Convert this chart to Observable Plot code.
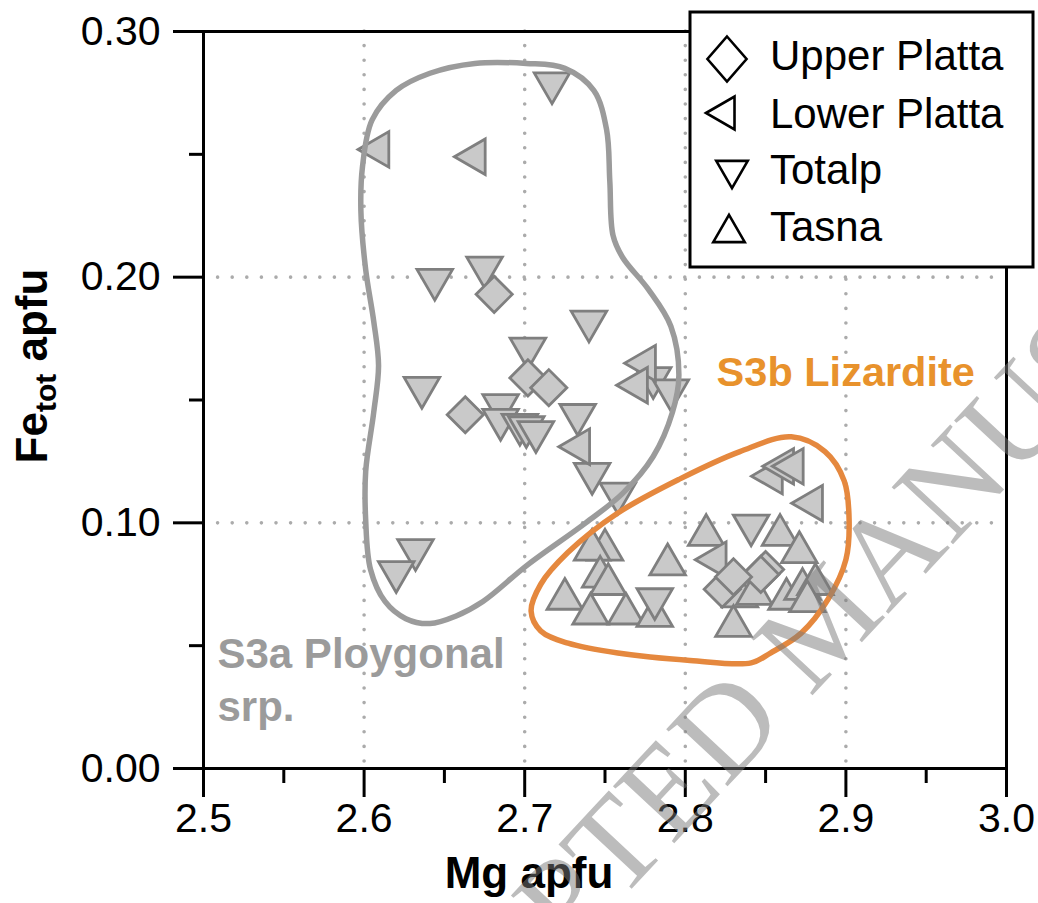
<!DOCTYPE html>
<html>
<head>
<meta charset="utf-8">
<script src="https://cdn.jsdelivr.net/npm/d3@7"></script>
<script src="https://cdn.jsdelivr.net/npm/@observablehq/plot@0.6"></script>
<style>
  html, body { margin: 0; padding: 0; background: #fff; }
  svg { display: block; }
</style>
</head>
<body>
<div id="chart"></div>
<script>
// ---- data (Mg apfu, Fe_tot apfu) ----
const upperPlattaMg = [2.681, 2.702, 2.715, 2.663, 2.850, 2.847, 2.823, 2.830];
const upperPlattaFe = [0.193, 0.159, 0.155, 0.144, 0.081, 0.079, 0.073, 0.078];

const lowerPlattaMg = [2.609, 2.669, 2.734, 2.775, 2.770, 2.854, 2.861, 2.867, 2.879, 2.819];
const lowerPlattaFe = [0.252, 0.249, 0.131, 0.165, 0.156, 0.119, 0.123, 0.123, 0.108, 0.085];

const totalpMg = [2.717, 2.644, 2.675, 2.740, 2.702, 2.636, 2.685, 2.685, 2.697, 2.701, 2.707, 2.733, 2.742, 2.758, 2.780, 2.791, 2.841, 2.781, 2.632, 2.620];
const totalpFe = [0.279, 0.199, 0.204, 0.182, 0.171, 0.155, 0.148, 0.142, 0.140, 0.139, 0.137, 0.144, 0.120, 0.112, 0.159, 0.154, 0.099, 0.069, 0.089, 0.080];

const tasnaMg = [2.813, 2.859, 2.871, 2.834, 2.843, 2.863, 2.873, 2.881, 2.876, 2.830, 2.789, 2.750, 2.742, 2.747, 2.752, 2.725, 2.741, 2.763, 2.781];
const tasnaFe = [0.095, 0.095, 0.088, 0.070, 0.071, 0.069, 0.073, 0.075, 0.068, 0.058, 0.083, 0.089, 0.089, 0.078, 0.075, 0.069, 0.063, 0.063, 0.062];

// field outlines (closed curves)
const s3aMg = [2.598, 2.599, 2.605, 2.620, 2.641, 2.669, 2.701, 2.725, 2.743, 2.751, 2.753, 2.755, 2.761, 2.777, 2.791, 2.796, 2.792, 2.780, 2.761, 2.738, 2.702, 2.674, 2.657, 2.641, 2.626, 2.613, 2.604, 2.601, 2.601, 2.606, 2.609, 2.606, 2.601];
const s3aFe = [0.227, 0.245, 0.264, 0.276, 0.283, 0.287, 0.287, 0.285, 0.276, 0.260, 0.239, 0.217, 0.208, 0.195, 0.180, 0.160, 0.145, 0.127, 0.112, 0.100, 0.083, 0.068, 0.062, 0.059, 0.061, 0.068, 0.081, 0.101, 0.121, 0.145, 0.164, 0.182, 0.203];

const s3bMg = [2.866, 2.887, 2.899, 2.902, 2.900, 2.889, 2.872, 2.853, 2.841, 2.803, 2.758, 2.727, 2.710, 2.704, 2.710, 2.727, 2.758, 2.797, 2.834];
const s3bFe = [0.135, 0.129, 0.117, 0.101, 0.085, 0.069, 0.055, 0.047, 0.043, 0.044, 0.047, 0.051, 0.056, 0.064, 0.075, 0.088, 0.104, 0.118, 0.129];

// ticks
const xMajorTicks = [2.5, 2.6, 2.7, 2.8, 2.9, 3.0];
const xMinorTicks = [2.55, 2.65, 2.75, 2.85, 2.95];
const yMajorTicks = [0, 0.1, 0.2, 0.3];
const yMinorTicks = [0.05, 0.15, 0.25];
const xGrid = [2.6, 2.7, 2.8, 2.9];
const yGrid = [0.1, 0.2];

// legend entries & field labels
const seriesNames = ["Upper Platta", "Lower Platta", "Totalp", "Tasna"];
const fieldLabels = [
  {mg: 2.8195, fe: 0.1555, text: "S3b Lizardite"},
  {mg: 2.5087, fe: 0.0192, text: "S3a Ploygonal\nsrp."}
];
const watermark = "ACCEPTED MANUSCRIPT";

// ---- build ----
const toPts = (mg, fe) => mg.map((m, i) => ({mg: m, fe: fe[i]}));
const upper = toPts(upperPlattaMg, upperPlattaFe);
const lower = toPts(lowerPlattaMg, lowerPlattaFe);
const totalp = toPts(totalpMg, totalpFe);
const tasna = toPts(tasnaMg, tasnaFe);
const s3a = toPts(s3aMg, s3aFe);
const s3b = toPts(s3bMg, s3bFe);

const dotStyle = {x: "mg", y: "fe", fill: "#c9c9c9", stroke: "#7f7f7f", strokeWidth: 2.8};
const gridStyle = {stroke: "#ababab", strokeWidth: 3.6, strokeDasharray: "0,14.6", strokeLinecap: "round"};

const svg = Plot.plot({
  width: 1038,
  height: 903,
  marginLeft: 203,
  marginRight: 32,
  marginTop: 31,
  marginBottom: 135,
  style: {fontFamily: "'Liberation Sans', Arial, Helvetica, sans-serif", background: "#fff", overflow: "hidden", color: "#000"},
  x: {domain: [2.5, 3.0], label: null, axis: null},
  y: {domain: [0, 0.3], label: null, axis: null},
  marks: [
    Plot.ruleX(xGrid, gridStyle),
    Plot.ruleY(yGrid, gridStyle),
    Plot.text(fieldLabels.slice(1), {x: "mg", y: "fe", text: "text", textAnchor: "start", lineAnchor: "bottom", lineHeight: 1.27, fontSize: 42, fontWeight: "bold", fill: "#9b9b9b"}),
    Plot.text(fieldLabels.slice(0, 1), {x: "mg", y: "fe", text: "text", textAnchor: "start", lineAnchor: "bottom", fontSize: 41.5, fontWeight: "bold", fill: "#e8922c"}),
    Plot.dot(tasna, {...dotStyle, symbol: "triangle", r: 13.2}),
    Plot.dot(totalp, {...dotStyle, symbol: "triangle", rotate: 180, r: 13.2}),
    Plot.dot(lower, {...dotStyle, symbol: "triangle", rotate: -90, r: 13.2}),
    Plot.dot(upper, {...dotStyle, symbol: "diamond2", r: 16.3}),
    Plot.line(s3a, {x: "mg", y: "fe", curve: "catmull-rom-closed", stroke: "#9b9b9b", strokeWidth: 5.5}),
    Plot.line(s3b, {x: "mg", y: "fe", curve: "catmull-rom-closed", stroke: "#e5883e", strokeWidth: 5.5}),
    Plot.frame({stroke: "#000", strokeWidth: 3}),
    Plot.axisX(xMajorTicks, {anchor: "bottom", tickSize: 29, tickPadding: 5, tickFormat: d3.format(".1f"), fontSize: 41, strokeWidth: 3, label: null}),
    Plot.axisX(xMinorTicks, {anchor: "bottom", tickSize: 15, tickFormat: () => "", strokeWidth: 3, label: null}),
    Plot.axisY(yMajorTicks, {anchor: "left", tickSize: 30, tickPadding: 13, tickFormat: d3.format(".2f"), fontSize: 41, strokeWidth: 3, label: null}),
    Plot.axisY(yMinorTicks, {anchor: "left", tickSize: 14, tickFormat: () => "", strokeWidth: 3, label: null})
  ]
});

const root = d3.select(svg);

// axis titles
root.append("text")
  .attr("x", 529).attr("y", 888)
  .attr("text-anchor", "middle")
  .attr("font-size", 44).attr("font-weight", "bold").attr("fill", "#000")
  .text("Mg apfu");

const yTitle = root.append("text")
  .attr("transform", "translate(47,366) rotate(-90)")
  .attr("text-anchor", "middle")
  .attr("font-size", 44).attr("font-weight", "bold").attr("fill", "#000");
yTitle.append("tspan").text("Fe");
yTitle.append("tspan").attr("font-size", 30).attr("dy", 9).text("tot");
yTitle.append("tspan").attr("font-size", 44).attr("dy", -9).text(" apfu");

// legend
const lg = root.append("g");
lg.append("rect").attr("x", 690).attr("y", 12).attr("width", 343).attr("height", 255)
  .attr("fill", "#fff").attr("stroke", "#000").attr("stroke-width", 3);
const legendSym = [
  {type: d3.symbolDiamond2, size: 1290, rot: 0, sx: 0.87, cx: 727, cy: 59},
  {type: d3.symbolTriangle, size: 470, rot: -90, sx: 1, cx: 725, cy: 113},
  {type: d3.symbolTriangle, size: 430, rot: 180, sx: 1, cx: 732, cy: 170},
  {type: d3.symbolTriangle, size: 430, rot: 0, sx: 1, cx: 729, cy: 233}
];
const legendBaselines = [70, 128, 184, 241];
seriesNames.forEach((name, i) => {
  const s = legendSym[i];
  lg.append("path")
    .attr("d", d3.symbol(s.type, s.size)())
    .attr("transform", `translate(${s.cx},${s.cy}) rotate(${s.rot}) scale(${s.sx},1)`)
    .attr("fill", "none").attr("stroke", "#000").attr("stroke-width", 2.6)
    .attr("vector-effect", "non-scaling-stroke");
  lg.append("text")
    .attr("x", 770).attr("y", legendBaselines[i])
    .attr("text-anchor", "start")
    .attr("font-size", 42).attr("fill", "#000")
    .text(name);
});

// publisher watermark (diagonal, semi-transparent)
root.append("text")
  .attr("transform", "translate(337,1205) rotate(-47)")
  .attr("text-anchor", "start")
  .attr("font-family", "'Liberation Serif', 'DejaVu Serif', serif")
  .attr("font-size", 128)
  .attr("fill", "#7a7a7a").attr("fill-opacity", 0.5)
  .text(watermark);

document.getElementById("chart").appendChild(svg);
</script>
</body>
</html>
